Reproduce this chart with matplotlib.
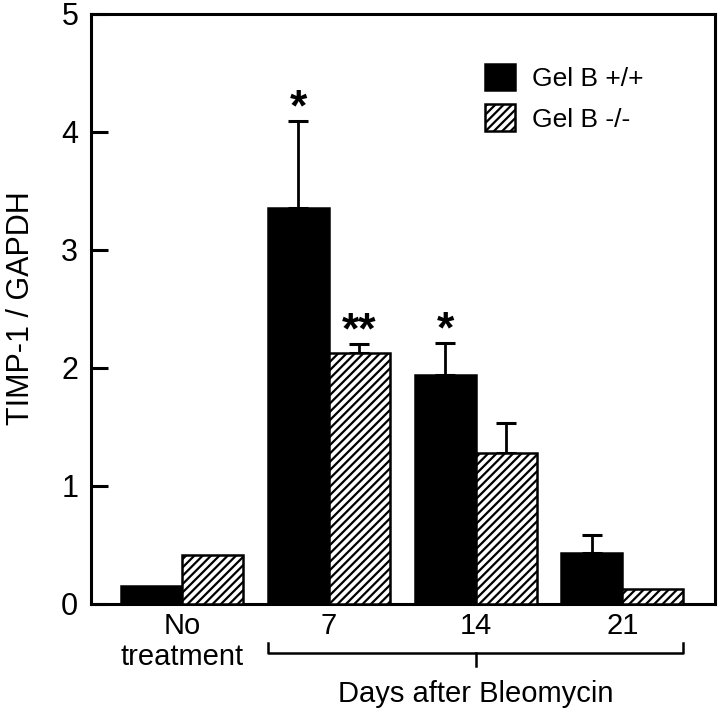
import matplotlib
matplotlib.use("Agg")
import matplotlib.pyplot as plt
import matplotlib.transforms as mtransforms
import numpy as np

plt.rcParams['font.family'] = ['Liberation Sans', 'DejaVu Sans']
plt.rcParams['hatch.linewidth'] = 1.6

groups = ["No\ntreatment", "7", "14", "21"]
wt_vals = [0.15, 3.35, 1.94, 0.43]
wt_err = [0.0, 0.74, 0.27, 0.15]
ko_vals = [0.41, 2.12, 1.28, 0.12]
ko_err = [0.0, 0.08, 0.25, 0.0]
wt_marks = ["", "*", "*", ""]
ko_marks = ["", "**", "", ""]

x = np.arange(len(groups))
w = 0.415

fig = plt.figure(figsize=(7.2, 7.11), dpi=100)
ax = fig.add_axes([0.126, 0.151, 0.867, 0.830])

ax.bar(x - w/2, wt_vals, w, color="black", edgecolor="black", linewidth=1.8,
       label="Gel B +/+", zorder=3)
ax.bar(x + w/2, ko_vals, w, color="white", edgecolor="black", linewidth=1.8,
       hatch="////", label="Gel B -/-", zorder=3)

for xs, vals, errs in [(x - w/2, wt_vals, wt_err), (x + w/2, ko_vals, ko_err)]:
    for xi, v, e in zip(xs, vals, errs):
        if e > 0:
            ax.errorbar(xi, v, yerr=[[0], [e]], fmt="none", ecolor="black",
                        elinewidth=2, capsize=7.5, capthick=2.2, zorder=2)

# significance stars
for xs, vals, errs, marks in [(x - w/2, wt_vals, wt_err, wt_marks),
                              (x + w/2, ko_vals, ko_err, ko_marks)]:
    for xi, v, e, m in zip(xs, vals, errs, marks):
        if m:
            ax.text(xi, v + e - 0.07, m, ha="center", va="bottom",
                    fontsize=32, fontweight="bold")

ax.set_xlim(-0.62, 3.63)
ax.set_ylim(0, 5)
ax.set_yticks([0, 1, 2, 3, 4, 5])
ax.tick_params(axis="y", direction="in", length=12, width=2.2, labelsize=22, pad=9)
ax.set_xticks(x)
ax.set_xticklabels(groups, fontsize=21, linespacing=1.15)
ax.tick_params(axis="x", length=0, pad=6)
for s in ax.spines.values():
    s.set_linewidth(2.2)
ax.set_ylabel("TIMP-1 / GAPDH", fontsize=22, labelpad=18)

leg = ax.legend(loc="upper left", bbox_to_anchor=(0.631, 0.914), frameon=False,
                fontsize=19, handlelength=1.15, handleheight=1.15, borderpad=0,
                borderaxespad=0, handletextpad=0.65, labelspacing=0.5)

# bracket under the Bleomycin time points
tr = mtransforms.blended_transform_factory(ax.transData, ax.transAxes)
bx0 = x[1] - w
bx1 = x[3] + w
by = -0.083
ax.plot([bx0, bx0, bx1, bx1], [by + 0.017, by, by, by + 0.017], color="black",
        lw=1.8, transform=tr, clip_on=False)
ax.plot([x[2], x[2]], [by, by - 0.022], color="black", lw=1.8, transform=tr,
        clip_on=False)
ax.text(x[2], -0.153, "Days after Bleomycin", transform=tr, ha="center",
        va="center", fontsize=21)

fig.savefig("out.png", dpi=100)
